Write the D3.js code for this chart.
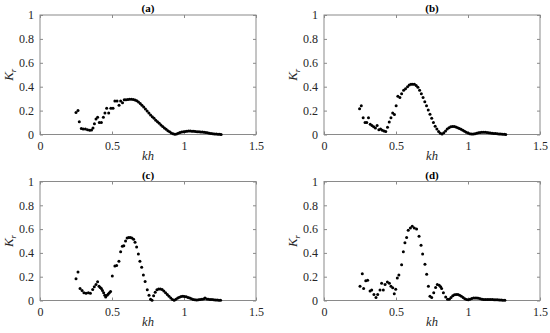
<!DOCTYPE html>
<html><head><meta charset="utf-8">
<script src="https://cdn.jsdelivr.net/npm/d3@7"></script>
<style>body{margin:0;background:#fff}svg{display:block}</style>
</head><body>
<svg id="c" width="550" height="333"></svg>
<script>
const xTicks=[0,0.5,1,1.5];
const yTicks=[0,0.2,0.4,0.6,0.8,1];
const titles=["(a)","(b)","(c)","(d)"];

const khA=[0.25,0.264,0.273,0.287,0.30,0.315,0.33,0.345,0.358,0.368,0.378,0.389,0.40,0.412,0.426,0.44,0.451,0.463,0.477,0.492,0.507,0.52,0.535,0.549,0.56,0.573,0.585,0.597,0.61,0.622,0.635,0.648,0.66,0.672,0.684,0.696,0.708,0.72,0.732,0.744,0.756,0.768,0.78,0.792,0.804,0.816,0.828,0.84,0.852,0.864,0.876,0.888,0.90,0.912,0.924,0.936,0.948,0.96,0.972,0.984,0.996,1.008,1.02,1.032,1.044,1.056,1.068,1.08,1.092,1.104,1.116,1.128,1.14,1.152,1.164,1.176,1.188,1.2,1.212,1.224,1.236,1.248,1.258];
const krA=[0.185,0.20,0.107,0.05,0.045,0.045,0.04,0.035,0.038,0.055,0.09,0.13,0.145,0.10,0.10,0.145,0.18,0.22,0.18,0.22,0.22,0.28,0.28,0.245,0.28,0.265,0.29,0.29,0.292,0.295,0.295,0.292,0.288,0.282,0.272,0.26,0.245,0.23,0.213,0.197,0.18,0.163,0.148,0.135,0.12,0.107,0.094,0.08,0.067,0.055,0.043,0.032,0.022,0.013,0.006,0.002,0.004,0.01,0.016,0.02,0.024,0.026,0.028,0.029,0.029,0.028,0.027,0.025,0.024,0.022,0.021,0.02,0.019,0.017,0.014,0.011,0.009,0.007,0.005,0.004,0.003,0.002,0.001];

const khB=[0.247,0.259,0.272,0.285,0.297,0.309,0.321,0.333,0.345,0.357,0.369,0.381,0.393,0.405,0.417,0.429,0.441,0.453,0.465,0.477,0.489,0.501,0.513,0.527,0.539,0.553,0.566,0.58,0.592,0.604,0.616,0.628,0.64,0.652,0.664,0.676,0.688,0.70,0.712,0.724,0.736,0.748,0.76,0.772,0.784,0.796,0.808,0.82,0.832,0.844,0.856,0.868,0.88,0.892,0.904,0.916,0.928,0.94,0.952,0.964,0.976,0.988,1.0,1.012,1.024,1.036,1.048,1.06,1.072,1.084,1.096,1.108,1.12,1.132,1.144,1.156,1.168,1.18,1.192,1.204,1.216,1.228,1.24,1.252,1.262];
const krB=[0.215,0.24,0.14,0.10,0.10,0.14,0.085,0.075,0.065,0.055,0.075,0.04,0.045,0.035,0.03,0.025,0.06,0.105,0.14,0.18,0.167,0.24,0.32,0.31,0.34,0.37,0.383,0.40,0.415,0.42,0.42,0.42,0.41,0.395,0.37,0.34,0.31,0.275,0.24,0.205,0.17,0.135,0.10,0.07,0.045,0.025,0.01,0.004,0.015,0.03,0.045,0.057,0.064,0.067,0.066,0.062,0.057,0.05,0.043,0.035,0.027,0.019,0.012,0.007,0.004,0.004,0.007,0.011,0.014,0.017,0.018,0.019,0.018,0.017,0.015,0.013,0.011,0.009,0.008,0.006,0.005,0.004,0.003,0.002,0.001];

const khC=[0.25,0.264,0.278,0.292,0.305,0.32,0.336,0.35,0.366,0.377,0.389,0.40,0.41,0.418,0.426,0.434,0.442,0.45,0.456,0.466,0.474,0.482,0.49,0.502,0.52,0.532,0.548,0.56,0.572,0.582,0.594,0.605,0.616,0.627,0.638,0.65,0.66,0.671,0.683,0.694,0.706,0.718,0.73,0.745,0.757,0.768,0.778,0.789,0.80,0.812,0.824,0.836,0.848,0.86,0.872,0.884,0.896,0.908,0.92,0.932,0.944,0.956,0.968,0.98,0.992,1.004,1.016,1.028,1.04,1.052,1.064,1.076,1.088,1.1,1.112,1.124,1.136,1.146,1.158,1.17,1.182,1.194,1.206,1.218,1.23,1.242,1.254];
const krC=[0.183,0.24,0.10,0.085,0.065,0.06,0.065,0.06,0.093,0.115,0.135,0.158,0.12,0.11,0.10,0.085,0.065,0.045,0.03,0.045,0.055,0.065,0.075,0.205,0.29,0.295,0.33,0.41,0.455,0.46,0.50,0.525,0.53,0.53,0.525,0.515,0.49,0.45,0.39,0.33,0.28,0.215,0.16,0.09,0.045,0.01,0.003,0.04,0.07,0.09,0.097,0.097,0.092,0.08,0.065,0.05,0.035,0.02,0.008,0.003,0.01,0.02,0.028,0.033,0.035,0.034,0.031,0.026,0.02,0.014,0.009,0.006,0.005,0.006,0.008,0.01,0.012,0.022,0.012,0.01,0.009,0.008,0.007,0.005,0.004,0.003,0.002];

const khD=[0.25,0.266,0.275,0.29,0.303,0.32,0.331,0.347,0.361,0.373,0.389,0.40,0.412,0.424,0.44,0.454,0.465,0.477,0.488,0.498,0.509,0.52,0.539,0.551,0.562,0.574,0.585,0.60,0.613,0.627,0.643,0.66,0.674,0.685,0.701,0.713,0.725,0.736,0.748,0.762,0.775,0.787,0.80,0.81,0.817,0.829,0.845,0.858,0.87,0.882,0.894,0.906,0.918,0.93,0.942,0.954,0.966,0.978,0.99,1.002,1.014,1.026,1.038,1.05,1.062,1.074,1.086,1.098,1.11,1.122,1.134,1.146,1.158,1.17,1.182,1.194,1.206,1.218,1.23,1.242,1.256];
const krD=[0.12,0.225,0.10,0.165,0.17,0.08,0.088,0.05,0.025,0.05,0.088,0.145,0.088,0.135,0.155,0.145,0.12,0.108,0.057,0.094,0.19,0.215,0.30,0.41,0.485,0.53,0.59,0.61,0.625,0.61,0.60,0.54,0.465,0.39,0.305,0.22,0.12,0.035,0.025,0.065,0.11,0.135,0.128,0.115,0.10,0.065,0.03,0.01,0.01,0.025,0.04,0.048,0.05,0.05,0.045,0.035,0.025,0.015,0.008,0.006,0.01,0.016,0.02,0.022,0.021,0.018,0.014,0.011,0.009,0.008,0.008,0.008,0.008,0.008,0.007,0.007,0.006,0.005,0.004,0.003,0.002];

const panels=[
  {kh:khA,kr:krA,x0:40,x1:256,y0:15,y1:134.5},
  {kh:khB,kr:krB,x0:324,x1:540,y0:15,y1:134.5},
  {kh:khC,kr:krC,x0:40,x1:256,y0:181.5,y1:300.5},
  {kh:khD,kr:krD,x0:324,x1:540,y0:181.5,y1:300.5}
];

const svg=d3.select("#c");
const FONT="Liberation Serif";
const axisCol="#8a8a8a", textCol="#262626";

panels.forEach((p,i)=>{
  const x=d3.scaleLinear().domain([0,1.5]).range([p.x0,p.x1]);
  const y=d3.scaleLinear().domain([0,1]).range([p.y1,p.y0]);
  const g=svg.append("g");
  g.append("rect").attr("x",p.x0).attr("y",p.y0).attr("width",p.x1-p.x0).attr("height",p.y1-p.y0)
    .attr("fill","#fff").attr("stroke",axisCol).attr("stroke-width",1);
  const ax=(gen,tr)=>{
    const a=g.append("g").attr("transform",tr).call(gen);
    a.select(".domain").remove();
    a.selectAll("line").attr("stroke",axisCol);
    a.selectAll("text").attr("fill",textCol).style("font-family",FONT).style("font-size","12px");
    return a;
  };
  ax(d3.axisBottom(x).tickValues(xTicks).tickSize(-3).tickPadding(7).tickFormat(d3.format("~g")),`translate(0,${p.y1})`);
  ax(d3.axisLeft(y).tickValues(yTicks).tickSize(-3).tickPadding(6).tickFormat(d3.format("~g")),`translate(${p.x0},0)`);
  ax(d3.axisTop(x).tickValues(xTicks).tickSize(-3).tickFormat(""),`translate(0,${p.y0})`);
  ax(d3.axisRight(y).tickValues(yTicks).tickSize(-3).tickFormat(""),`translate(${p.x1},0)`);
  const pts=p.kh.map((k,j)=>({k,v:p.kr[j]}));
  g.selectAll("circle").data(pts).join("circle")
    .attr("cx",d=>x(d.k)).attr("cy",d=>y(d.v)).attr("r",1.5).attr("fill","#000");
  g.append("text").attr("x",(p.x0+p.x1)/2).attr("y",p.y0-3).attr("text-anchor","middle")
    .style("font-family",FONT).style("font-weight","bold").style("font-size","11px").attr("fill","#000").text(titles[i]);
  g.append("text").attr("x",(p.x0+p.x1)/2).attr("y",p.y1+25).attr("text-anchor","middle")
    .style("font-family",FONT).style("font-style","italic").style("font-size","12.5px").attr("fill",textCol).text("kh");
  const yl=g.append("text").attr("transform",`translate(${p.x0-27},${(p.y0+p.y1)/2}) rotate(-90)`).attr("text-anchor","middle")
    .style("font-family",FONT).style("font-style","italic").style("font-size","13px").attr("fill",textCol);
  yl.append("tspan").text("K");
  yl.append("tspan").style("font-size","9px").attr("dy",3).text("r");
});
</script>
</body></html>
